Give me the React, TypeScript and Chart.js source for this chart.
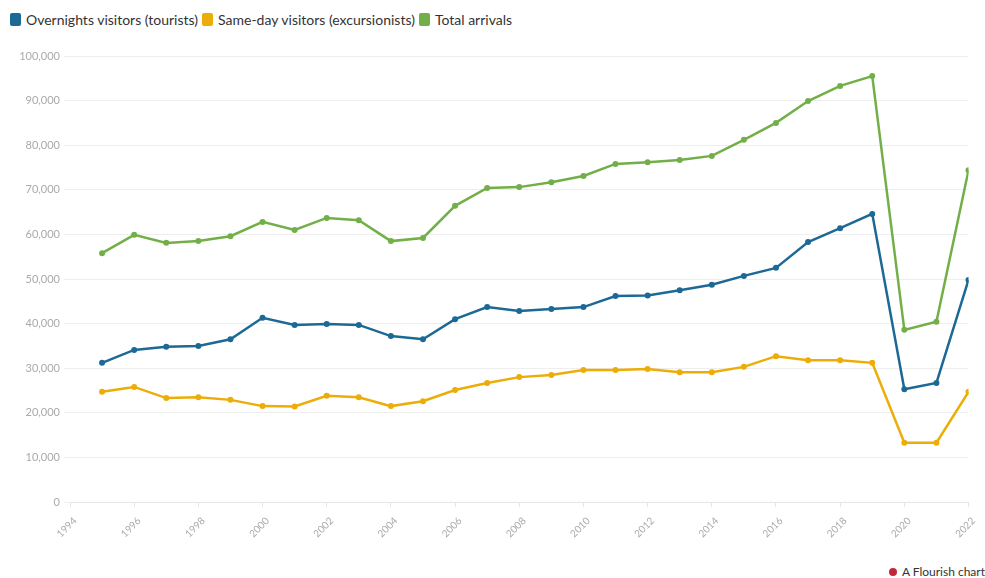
import React, { useEffect, useRef } from "react";
import { Chart, registerables } from "chart.js";

Chart.register(...registerables);

const years = [1995, 1996, 1997, 1998, 1999, 2000, 2001, 2002, 2003, 2004, 2005, 2006, 2007, 2008, 2009, 2010, 2011, 2012, 2013, 2014, 2015, 2016, 2017, 2018, 2019, 2020, 2021, 2022];
const overnight = [31200, 34100, 34800, 35000, 36500, 41300, 39700, 39900, 39700, 37200, 36500, 41000, 43700, 42800, 43300, 43700, 46200, 46300, 47500, 48700, 50700, 52500, 58300, 61400, 64600, 25300, 26700, 49800];
const sameDay = [24700, 25800, 23300, 23500, 22900, 21500, 21400, 23800, 23500, 21500, 22600, 25100, 26700, 28000, 28500, 29600, 29600, 29800, 29100, 29100, 30300, 32700, 31800, 31800, 31200, 13300, 13300, 24700];
const total = [55800, 59900, 58100, 58500, 59600, 62800, 61000, 63700, 63200, 58500, 59200, 66400, 70400, 70600, 71700, 73100, 75800, 76200, 76700, 77600, 81200, 85000, 89900, 93300, 95500, 38600, 40400, 74400];

const seriesNames = ["Overnights visitors (tourists)", "Same-day visitors (excursionists)", "Total arrivals"];
const seriesColors = ["#1D6996", "#EDAD08", "#73AF48"];
const seriesValues = [overnight, sameDay, total];

const xMin = 1994;
const xMax = 2022;
const yMax = 100000;

const FONT = "Lato, 'Open Sans', sans-serif";

export default function App() {
  const ref = useRef<HTMLCanvasElement | null>(null);

  useEffect(() => {
    document.body.style.margin = "0";
    const canvas = ref.current;
    if (!canvas) return;
    const chart = new Chart(canvas, {
      type: "line",
      data: {
        datasets: seriesNames.map((name, i) => ({
          label: name,
          data: years.map((y, j) => ({ x: y, y: seriesValues[i][j] })),
          borderColor: seriesColors[i],
          backgroundColor: seriesColors[i],
          borderWidth: 2.5,
          pointRadius: 3,
          pointBorderWidth: 0,
          tension: 0,
        })),
      },
      options: {
        animation: false,
        responsive: false,
        maintainAspectRatio: false,
        layout: { padding: { top: 56, right: 15, left: 0, bottom: 0 } },
        plugins: {
          legend: { display: false },
          tooltip: { enabled: false },
        },
        scales: {
          x: {
            type: "linear",
            min: xMin,
            max: xMax,
            ticks: {
              stepSize: 2,
              maxRotation: 45,
              minRotation: 45,
              color: "#aaa",
              font: { family: FONT, size: 10 },
              callback: (v: any) => String(v),
              padding: 8,
              labelOffset: 5,
            },
            grid: {
              display: true,
              drawOnChartArea: false,
              drawTicks: true,
              tickLength: 5,
              color: "#e6e6e6",
            },
            border: { color: "#e6e6e6" },
            afterFit: (s: any) => {
              s.height = 53;
            },
          },
          y: {
            min: 0,
            max: yMax,
            ticks: {
              stepSize: 10000,
              color: "#aaa",
              font: { family: FONT, size: 11 },
              padding: 4,
              callback: (v: any) => Number(v).toLocaleString("en-US"),
            },
            grid: {
              color: "#eeeeee",
              tickLength: 6,
              drawTicks: true,
            },
            border: { display: false },
            afterFit: (s: any) => {
              s.width = 70;
            },
          },
        },
      },
    });
    return () => chart.destroy();
  }, []);

  return (
    <div style={{ position: "absolute", left: 0, top: 0, width: 985, height: 578, overflow: "hidden", background: "#fff", fontFamily: FONT }}>
      <div style={{ position: "absolute", left: 10, top: 11, display: "flex", alignItems: "center", fontSize: 14, color: "#333", whiteSpace: "nowrap" }}>
        {seriesNames.map((n, i) => (
          <div key={n} style={{ display: "flex", alignItems: "center", marginRight: 4 }}>
            <span style={{ display: "inline-block", width: 11, height: 13, borderRadius: 2, background: seriesColors[i], marginRight: 5 }} />
            <span>{n}</span>
          </div>
        ))}
      </div>
      <canvas ref={ref} width={985} height={555} style={{ position: "absolute", left: 0, top: 0, width: 985, height: 555 }} />
      <div style={{ position: "absolute", right: 0, top: 564, display: "flex", alignItems: "center", fontSize: 12, color: "#333", whiteSpace: "nowrap" }}>
        <span style={{ display: "inline-block", width: 8, height: 8, borderRadius: 4, background: "#c0283a", marginRight: 5 }} />
        <span>A Flourish chart</span>
      </div>
    </div>
  );
}
